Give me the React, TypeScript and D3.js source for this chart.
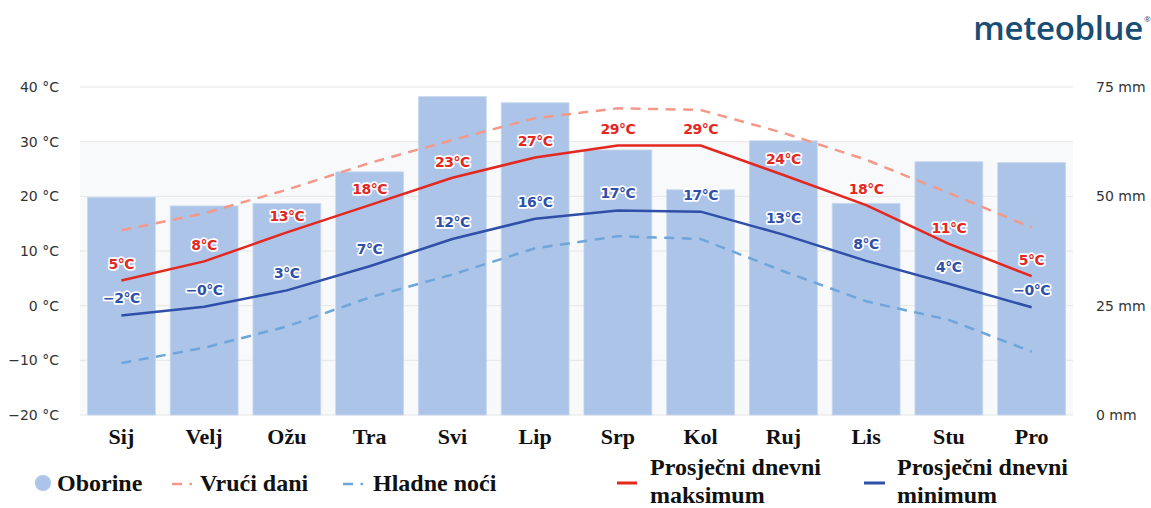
import React from "react";
import * as d3 from "d3";

const months = ["Sij", "Velj", "Ožu", "Tra", "Svi", "Lip", "Srp", "Kol", "Ruj", "Lis", "Stu", "Pro"];
const precipitation = [49.8, 47.8, 48.4, 55.6, 72.8, 71.4, 60.6, 51.5, 62.7, 48.4, 57.9, 57.7];
const hotDays = [13.8, 16.9, 21.2, 26.1, 30.3, 34.3, 36.1, 35.8, 31.6, 26.7, 20.6, 14.3];
const coldNights = [-10.5, -7.7, -3.8, 1.5, 5.7, 10.5, 12.7, 12.2, 6.3, 0.8, -2.6, -8.4];
const meanMax = [4.6, 8.1, 13.4, 18.4, 23.4, 27.1, 29.3, 29.3, 23.9, 18.4, 11.3, 5.4];
const meanMin = [-1.8, -0.2, 2.8, 7.2, 12.2, 15.9, 17.4, 17.2, 13.0, 8.2, 4.0, -0.3];
const tempTicks = [40, 30, 20, 10, 0, -10, -20];
const precipTicks = [75, 50, 25, 0];

const W = 1151;
const H = 508;
const left = 80;
const right = 1073;
const top = 87;
const bottom = 415;

const C_BAR = "#abc4e7";
const C_HOT = "#f3998a";
const C_COLD = "#6ea6dc";
const C_MAX = "#e3281f";
const C_MIN = "#2f4fa8";

function fmt(v: number): string {
  const r = Math.round(v);
  if (v < 0) return "\u2212" + Math.abs(r) + "\u00B0C";
  return r + "\u00B0C";
}

export default function App() {
  const x = d3.scaleBand<string>().domain(months).range([left, right]).paddingInner(0).paddingOuter(0);
  const yT = d3.scaleLinear().domain([-20, 40]).range([bottom, top]);
  const yP = d3.scaleLinear().domain([0, 75]).range([bottom, top]);
  const cx = (m: string) => (x(m) as number) + x.bandwidth() / 2;
  const barW = x.bandwidth() * 0.82;

  const line = (vals: number[]) =>
    d3
      .line<number>()
      .x((_, i) => cx(months[i]))
      .y((d) => yT(d))(vals) as string;

  const labelFont = "'DejaVu Sans', sans-serif";
  const serif = "'Liberation Serif', 'Times New Roman', serif";

  return (
    <svg
      width={W}
      height={H}
      style={{ position: "absolute", left: 0, top: 0, background: "#fff" }}
    >
      {/* logo */}
      <text
        x={1143}
        y={40}
        textAnchor="end"
        fontFamily="'Open Sans', sans-serif"
        fontWeight={600}
        fontSize={33}
        fill="#1a4d74"
        letterSpacing={-0.3}
      >
        meteoblue
      </text>
      <text x={1144} y={22} fontFamily="'Open Sans', sans-serif" fontSize={8} fill="#1a4d74">
        ®
      </text>

      {/* plot background band */}
      <rect x={left} y={yT(30)} width={right - left} height={yT(-20) - yT(30)} fill="#f8f9fa" />

      {/* grid lines */}
      {tempTicks.map((t) => (
        <line key={t} x1={left} x2={right} y1={yT(t)} y2={yT(t)} stroke="#e6e6e6" strokeWidth={1} />
      ))}

      {/* left axis labels */}
      {tempTicks.map((t) => (
        <text
          key={"l" + t}
          x={59}
          y={yT(t)}
          dy="0.35em"
          textAnchor="end"
          fontFamily={labelFont}
          fontSize={14}
          fill="#333"
        >
          {(t < 0 ? "\u2212" + Math.abs(t) : String(t)) + " \u00B0C"}
        </text>
      ))}

      {/* right axis labels */}
      {precipTicks.map((p) => (
        <text
          key={"r" + p}
          x={1096}
          y={yP(p)}
          dy="0.35em"
          textAnchor="start"
          fontFamily={labelFont}
          fontSize={14}
          fill="#333"
        >
          {p + " mm"}
        </text>
      ))}

      {/* bars */}
      {months.map((m, i) => (
        <rect
          key={"b" + m}
          x={cx(m) - barW / 2}
          y={yP(precipitation[i])}
          width={barW}
          height={yP(0) - yP(precipitation[i])}
          fill={C_BAR}
          stroke="#c9d8ef"
          strokeWidth={0.8}
        />
      ))}

      {/* lines */}
      <path d={line(hotDays)} fill="none" stroke={C_HOT} strokeWidth={2.5} strokeDasharray="10,7.5" />
      <path d={line(coldNights)} fill="none" stroke={C_COLD} strokeWidth={2.5} strokeDasharray="10,7.5" />
      <path d={line(meanMax)} fill="none" stroke={C_MAX} strokeWidth={2.5} strokeLinejoin="round" />
      <path d={line(meanMin)} fill="none" stroke={C_MIN} strokeWidth={2.5} strokeLinejoin="round" />

      {/* data labels */}
      {months.map((m, i) => (
        <g key={"lab" + m} fontFamily={labelFont} fontSize={14} fontWeight="bold" textAnchor="middle">
          <text
            x={cx(m)}
            y={yT(meanMax[i]) - 16}
            dy="0.35em"
            fill={C_MAX}
            stroke="#fff"
            strokeWidth={3.5}
            paintOrder="stroke"
            strokeLinejoin="round"
            letterSpacing={-0.5}
          >
            {fmt(meanMax[i])}
          </text>
          <text
            x={cx(m)}
            y={yT(meanMin[i]) - 17}
            dy="0.35em"
            fill={C_MIN}
            stroke="#fff"
            strokeWidth={3.5}
            paintOrder="stroke"
            strokeLinejoin="round"
            letterSpacing={-0.5}
          >
            {fmt(meanMin[i])}
          </text>
        </g>
      ))}

      {/* x axis labels */}
      {months.map((m) => (
        <text
          key={"x" + m}
          x={cx(m)}
          y={444}
          textAnchor="middle"
          fontFamily={serif}
          fontWeight="bold"
          fontSize={22}
          fill="#111"
        >
          {m}
        </text>
      ))}

      {/* legend */}
      <g fontFamily={serif} fontWeight="bold" fontSize={24} fill="#111">
        <circle cx={43} cy={483} r={8} fill={C_BAR} />
        <text x={57} y={491}>Oborine</text>

        <line x1={172} x2={192} y1={484} y2={484} stroke={C_HOT} strokeWidth={2.5} strokeDasharray="10,7.5" />
        <text x={200} y={491}>Vrući dani</text>

        <line x1={343} x2={363} y1={484} y2={484} stroke={C_COLD} strokeWidth={2.5} strokeDasharray="10,7.5" />
        <text x={373} y={491}>Hladne noći</text>

        <line x1={617} x2={637} y1={483} y2={483} stroke={C_MAX} strokeWidth={3} />
        <text x={650} y={475}>Prosječni dnevni</text>
        <text x={650} y={503}>maksimum</text>

        <line x1={864} x2={885} y1={483} y2={483} stroke={C_MIN} strokeWidth={3} />
        <text x={897} y={475}>Prosječni dnevni</text>
        <text x={897} y={503}>minimum</text>
      </g>
    </svg>
  );
}
